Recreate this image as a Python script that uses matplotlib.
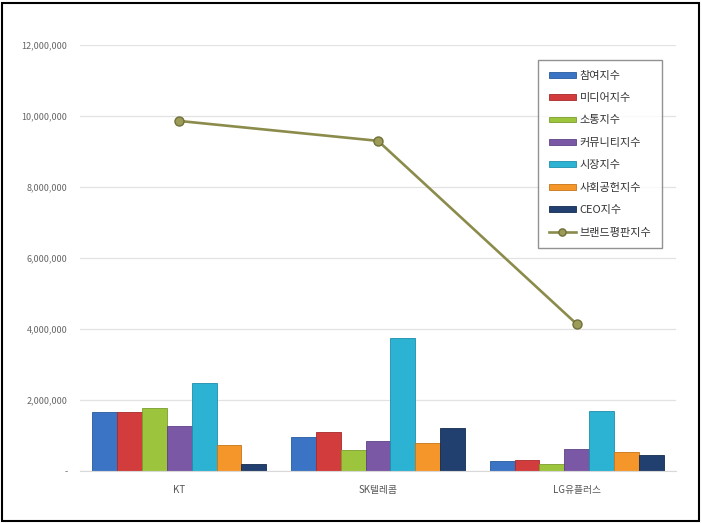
import matplotlib.pyplot as plt
import numpy as np
from matplotlib.patches import Rectangle

plt.rcParams['font.family'] = ['Noto Sans CJK KR', 'DejaVu Sans']

companies = ['KT', 'SK텔레콤', 'LG유플러스']
series_names = ['참여지수', '미디어지수', '소통지수', '커뮤니티지수', '시장지수', '사회공헌지수', 'CEO지수']
participation = [1670000, 960000, 280000]
media = [1650000, 1100000, 310000]
communication = [1780000, 590000, 190000]
community = [1260000, 840000, 630000]
market = [2470000, 3750000, 1690000]
social = [730000, 800000, 530000]
ceo = [190000, 1220000, 460000]
brand = [9860000, 9300000, 4140000]
brand_name = '브랜드평판지수'

series = [participation, media, communication, community, market, social, ceo]
colors = ['#3b74c4', '#d23c3c', '#9cc53d', '#7b58a6', '#2cb3d4', '#f5962a', '#21406f']
edges = ['#285a9c', '#a82a2a', '#7a9d2a', '#5e4285', '#1d8fab', '#c87516', '#142c50']

fig = plt.figure(figsize=(7.02, 5.23), dpi=100)
ax = fig.add_axes([80 / 702, 1 - 471 / 523, 596 / 702, 426 / 523])

x = np.arange(len(companies))
w = 0.125
handles = []
for i, vals in enumerate(series):
    b = ax.bar(x + (i - 3) * w, vals, w, color=colors[i], edgecolor=edges[i],
               linewidth=0.6, label=series_names[i], zorder=2)
    handles.append(b)

ln, = ax.plot(x, brand, color='#8b8b4b', lw=1.9, marker='o', ms=6.5,
              mfc='#9c9c58', mec='#70703a', label=brand_name, zorder=3)
handles.append(ln)

ax.set_xlim(-0.5, 2.5)
ax.set_ylim(0, 12000000)
yt = np.arange(0, 12000001, 2000000)
ax.set_yticks(yt)
ax.set_yticklabels(['-'] + [f'{v:,}' for v in yt[1:]], fontsize=6.5, color='#666666')
ax.set_xticks(x)
ax.set_xticklabels(companies, fontsize=7, color='#555555')
ax.tick_params(axis='y', length=0, pad=9)
ax.tick_params(axis='x', length=0, pad=10)
ax.grid(axis='y', color='#e2e2e2', lw=0.9, zorder=0)
ax.set_axisbelow(True)
for s in ['top', 'right', 'left']:
    ax.spines[s].set_visible(False)
ax.spines['bottom'].set_color('#d8d8d8')

leg = ax.legend(handles=handles, loc='upper left', bbox_to_anchor=(538 / 702, 1 - 60 / 523),
                bbox_transform=fig.transFigure, borderaxespad=0, fontsize=8,
                frameon=True, fancybox=False, handlelength=2.5, handleheight=0.45,
                handletextpad=0.3, labelspacing=1.12, borderpad=0.95, markerscale=0.8)
leg.get_frame().set_edgecolor('#777777')
leg.get_frame().set_linewidth(1.0)
for t in leg.get_texts():
    t.set_color('#333333')

fig.patches.append(Rectangle((2 / 702, 2 / 523), 697 / 702, 518 / 523,
                             transform=fig.transFigure, fill=False,
                             edgecolor='black', lw=1.5))

fig.savefig('out.png', dpi=100)
